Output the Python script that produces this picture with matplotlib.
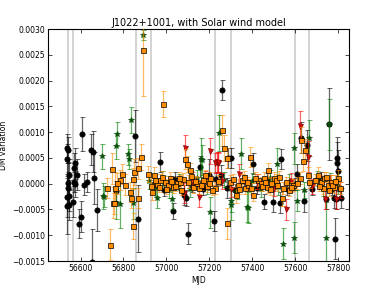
import matplotlib
matplotlib.use("Agg")
import matplotlib.pyplot as plt
import numpy as np

title = "J1022+1001, with Solar wind model"
xlabel = "MJD"
ylabel = "DM variation"

# gray vertical lines (solar conjunction windows)
vlines = [56540, 56567, 56857, 56928, 57228, 57300, 57597, 57665]

# black circles
blk_mjd = [56537, 56542, 56537, 56547, 56540, 56544, 56539, 56546, 56538, 56545,
           56565, 56575, 56570, 56568, 56572, 56584, 56608, 56617, 56631, 56603,
           56594, 56650, 56659, 56664, 56678, 56655, 56767, 56855, 56866, 56968,
           57030, 57100, 57220, 57261, 57285, 57299, 57401, 57532, 57757, 57795,
           57796, 57798, 57654, 57625, 57640, 57785, 57743, 57789, 57494, 57453,
           57528, 57080, 57089, 57154, 57197, 57252, 57280, 57606, 57812, 57780,
           56940, 56990, 57040, 57120, 57170, 57232, 57320, 57360, 57420, 57470,
           57560, 57600, 57680, 57720, 57770]
blk_dm = [0.00069, 0.00065, 0.00048, 0.00017, 0.00002, -0.00008, -0.00025, -0.00023, -0.00043, -0.00041,
          -0.00035, 0.00040, 0.00030, 0.00003, 0.00000, 0.00017, 0.00096, -0.00002, 0.00003, -0.00064,
          -0.00078, 0.00066, 0.00062, 0.00011, -0.00051, -0.00152, -0.00014, 0.00093, -0.00068, 0.00042,
          -0.00053, -0.00097, -0.00072, 0.00182, 0.00050, 0.00050, 0.00039, 0.00048, 0.00116, 0.00050,
          0.00040, 0.00025, 0.00075, 0.00089, -0.00034, -0.00107, -0.00030, -0.00030, -0.00035, -0.00035,
          -0.00037, -0.00022, -0.00028, 0.00033, 0.00017, 0.00017, -0.00008, 0.00019, -0.00028, -0.00028,
          0.00000, -0.00012, 0.00010, -0.00005, -0.00010, 0.00010, -0.00012, 0.00005, -0.00008, 0.00008,
          -0.00010, 0.00000, -0.00010, 0.00010, -0.00010]
blk_err = [0.00028, 0.00025, 0.0003, 0.0003, 0.0004, 0.0003, 0.0004, 0.0003, 0.00055, 0.0003,
           0.0003, 0.0003, 0.0003, 0.0002, 0.00025, 0.0003, 0.00033, 0.0002, 0.0002, 0.0003,
           0.00028, 0.0003, 0.0004, 0.0005, 0.0004, 0.00065, 0.0002, 0.0005, 0.00065, 0.0002,
           0.00015, 0.0002, 0.0002, 0.0002, 0.0002, 0.0002, 0.0002, 0.0002, 0.0007, 0.0004,
           0.0004, 0.0004, 0.0003, 0.0003, 0.0002, 0.0004, 0.0002, 0.0002, 0.0002, 0.00015,
           0.0002, 0.0002, 0.00015, 0.0002, 0.0003, 0.0002, 0.0002, 0.0002, 0.0002, 0.0002,
           0.00012, 0.00012, 0.00012, 0.00012, 0.00012, 0.00012, 0.00012, 0.00012, 0.00012, 0.00012,
           0.00012, 0.00012, 0.00012, 0.00012, 0.00012]

# green stars
grn_mjd = [56891, 56701, 56771, 56766, 56836, 56823, 56828, 56706, 56767, 56707,
           56786, 56846, 57159, 57243, 57346, 57594, 57664, 57545, 57593, 57742,
           57374, 57202, 57302, 57027, 56957, 57610, 57166, 57300, 57378, 57515,
           56920, 56950, 56980, 57010, 57060, 57110, 57140, 57190, 57270, 57330,
           57400, 57440, 57480, 57520, 57570, 57640, 57700, 57730, 57760, 57800, 57757]
grn_dm = [0.00288, 0.00053, 0.00096, 0.00073, 0.00124, 0.00057, 0.00048, -0.00024, -0.00038, -0.00025,
          -0.00040, -0.00038, 0.00048, 0.00099, 0.00058, 0.00069, 0.00088, -0.00116, -0.00105, -0.00105,
          -0.00045, -0.00055, -0.00034, -0.00029, -0.00028, -0.00033, 0.00046, -0.00041, -0.00047, 0.00039,
          0.00005, -0.00008, 0.00010, -0.00012, 0.00003, -0.00010, 0.00012, -0.00005, 0.00008, -0.00015,
          0.00006, -0.00010, 0.00012, -0.00006, 0.00004, -0.00012, 0.00010, -0.00008, 0.00006, -0.00004, 0.00115]
grn_err = [0.0001, 0.00025, 0.00023, 0.00025, 0.00025, 0.0002, 0.0002, 0.00025, 0.0003, 0.0002,
           0.00045, 0.0003, 0.0004, 0.00035, 0.0003, 0.0003, 0.00035, 0.0003, 0.0003, 0.0007,
           0.0003, 0.0003, 0.0002, 0.0002, 0.0002, 0.0002, 0.0003, 0.0003, 0.0003, 0.0003,
           0.00015, 0.00015, 0.00015, 0.00015, 0.00015, 0.00015, 0.00015, 0.00015, 0.00015, 0.00015,
           0.00015, 0.00015, 0.00015, 0.00015, 0.00015, 0.00015, 0.00015, 0.00015, 0.00015, 0.00015, 0.0005]

# red down triangles
red_mjd = [57201, 57621, 57657, 57228, 57234, 57240, 57087, 57238, 57337, 57152,
           57555, 57080, 57740, 57790, 57120, 57260, 57300, 57420, 57500, 57580,
           57680, 57760, 57810, 57180]
red_dm = [0.00063, 0.00112, 0.00052, 0.00040, 0.00042, 0.00040, 0.00070, 0.00042, 0.00019, -0.00025,
          -0.00050, -0.00018, -0.00030, -0.00030, 0.00008, 0.00005, -0.00010, 0.00004, -0.00008, 0.00006,
          -0.00005, 0.00002, -0.00012, 0.00010]
red_err = [0.00025, 0.0003, 0.0003, 0.0002, 0.0002, 0.0002, 0.00025, 0.0002, 0.0002, 0.0002,
           0.0002, 0.0002, 0.0002, 0.0002, 0.00015, 0.00015, 0.00015, 0.00015, 0.00015, 0.00015,
           0.00015, 0.00015, 0.00015, 0.00015]

# orange squares
org_mjd = [56891, 56986, 56738, 56846, 56753, 57284, 56880, 56748, 56724, 56762,
           56786, 56791, 56772, 56808, 56832, 56837, 56757, 56869, 56846, 56851,
           56869, 56916, 56926, 56940, 56934, 56958, 56972, 56995, 57008, 57017,
           57031, 57050, 57064, 57078, 57087, 57096, 57101, 57110, 57124, 57143,
           57152, 57171, 57189, 57203, 57227, 57260, 57269, 57283, 57294, 57322,
           57331, 57354, 57368, 57382, 57387, 57405, 57424, 57438, 57452, 57466,
           57475, 57489, 57499, 57517, 57540, 57545, 57569, 57587, 57610, 57620,
           57634, 57625, 57643, 57657, 57666, 57704, 57718, 57732, 57750, 57764,
           57778, 57797, 57806, 57727, 57755,
           56948, 56965, 56980, 57000, 57022, 57042, 57057, 57070, 57116, 57133,
           57160, 57180, 57196, 57212, 57240, 57310, 57340, 57362, 57375, 57395,
           57414, 57445, 57458, 57482, 57508, 57525, 57555, 57578, 57690, 57712,
           57742, 57770, 57786]
org_dm = [0.00260, 0.00154, -0.00118, -0.00082, -0.00037, -0.00077, 0.00052, 0.00029, -0.00008, -0.00008,
          0.00007, 0.00019, 0.00001, -0.00002, -0.00016, -0.00028, -0.00038, -0.00028, 0.00010, 0.00022,
          0.00030, 0.00019, -0.00004, 0.00017, -0.00016, 0.00000, 0.00007, 0.00003, -0.00002, 0.00011,
          -0.00006, 0.00001, 0.00004, 0.00009, 0.00048, 0.00038, 0.00004, 0.00026, -0.00006, 0.00001,
          -0.00008, 0.00007, -0.00004, 0.00011, -0.00008, 0.00104, 0.00069, 0.00050, 0.00004, -0.00022,
          -0.00002, 0.00007, -0.00008, -0.00002, 0.00052, -0.00022, 0.00007, 0.00002, 0.00011, -0.00006,
          0.00026, 0.00001, 0.00011, -0.00002, -0.00028, -0.00008, -0.00012, -0.00002, 0.00002, 0.00011,
          0.00045, 0.00085, 0.00066, 0.00017, 0.00003, 0.00017, 0.00004, 0.00011, -0.00002, 0.00004,
          -0.00006, 0.00011, -0.00008, -0.00008, -0.00012,
          0.00008, -0.00006, 0.00014, -0.00010, 0.00005, -0.00004, 0.00012, -0.00012, 0.00015, 0.00005,
          -0.00003, 0.00016, 0.00002, -0.00012, 0.00006, 0.00009, -0.00010, 0.00014, 0.00003, -0.00009,
          0.00012, -0.00005, 0.00004, -0.00011, 0.00008, 0.00014, 0.00003, -0.00006, 0.00008, -0.00004,
          0.00013, -0.00003, 0.00006]
org_err = [0.0009, 0.00025, 0.0003, 0.00026, 0.0003, 0.0003, 0.00025, 0.0003, 0.0002, 0.0003,
           0.0002, 0.0002, 0.0002, 0.0002, 0.0002, 0.0002, 0.0002, 0.0002, 0.0002, 0.00025,
           0.0002, 0.00015, 0.00015, 0.00015, 0.00015, 0.00012, 0.00012, 0.00012, 0.00012, 0.00012,
           0.00012, 0.00012, 0.00012, 0.00012, 0.0002, 0.00015, 0.00012, 0.00015, 0.00012, 0.00012,
           0.00012, 0.00012, 0.00012, 0.00012, 0.00012, 0.0003, 0.00025, 0.0002, 0.00012, 0.00015,
           0.00012, 0.00012, 0.00012, 0.00012, 0.0002, 0.00012, 0.00012, 0.00012, 0.00012, 0.00012,
           0.00015, 0.00012, 0.00012, 0.00012, 0.00015, 0.00012, 0.00012, 0.00012, 0.00012, 0.00012,
           0.0002, 0.00025, 0.0002, 0.00015, 0.00012, 0.00015, 0.00012, 0.00012, 0.00012, 0.00012,
           0.00012, 0.00015, 0.00012, 0.00012, 0.00012,
           0.0001, 0.0001, 0.0001, 0.0001, 0.0001, 0.0001, 0.0001, 0.0001, 0.0001, 0.0001,
           0.0001, 0.0001, 0.0001, 0.0001, 0.0001, 0.0001, 0.0001, 0.0001, 0.0001, 0.0001,
           0.0001, 0.0001, 0.0001, 0.0001, 0.0001, 0.0001, 0.0001, 0.0001, 0.0001, 0.0001,
           0.0001, 0.0001, 0.0001]

plt.rcParams['font.family'] = ['DejaVu Sans']
fig = plt.figure(figsize=(3.88, 2.91), dpi=100)
ax = fig.add_axes([0.1245, 0.103, 0.775, 0.797])

for v in vlines:
    ax.axvline(v, color='#cccccc', lw=1.2, zorder=0)

def series(x, y, e, mfc, mec, ecol, marker, ms, z):
    ax.errorbar(x, y, yerr=e, fmt='none', ecolor=ecol, elinewidth=0.9,
                capsize=1.8, capthick=0.7, alpha=0.6, zorder=z)
    ax.plot(x, y, ls='none', marker=marker, ms=ms, mfc=mfc, mec=mec, mew=0.5, zorder=z + 0.5)

series(blk_mjd, blk_dm, blk_err, 'black', 'black', 'black', 'o', 3.8, 2)
series(grn_mjd, grn_dm, grn_err, '#0b4f0b', '#0b4f0b', 'green', '*', 4.0, 3)
series(red_mjd, red_dm, red_err, '#d01010', '#8b0000', 'red', 'v', 3.6, 4)
series(org_mjd, org_dm, org_err, '#ff8c00', 'black', '#ff8c00', 's', 3.6, 5)

def fmt(v, p):
    if abs(v) < 1e-12:
        v = 0.0
    s = "%.4f" % abs(v)
    return ("\u2212" + s) if v < 0 else s

ax.set_xlim(56450, 57850)
ax.set_ylim(-0.0015, 0.0030)
ax.set_xticks([56600, 56800, 57000, 57200, 57400, 57600, 57800])
ax.set_yticks(np.arange(-0.0015, 0.00301, 0.0005))
ax.yaxis.set_major_formatter(matplotlib.ticker.FuncFormatter(fmt))
ax.tick_params(direction='in', top=True, right=True, labelsize=5.5, length=3, width=0.5, pad=2)
for s in ax.spines.values():
    s.set_linewidth(0.8)
ax.set_title(title, fontsize=7, pad=2)
ax.set_xlabel(xlabel, fontsize=5.5, labelpad=2)
ax.set_ylabel(ylabel, fontsize=5.5, labelpad=3)

fig.savefig("out.png", dpi=100)
